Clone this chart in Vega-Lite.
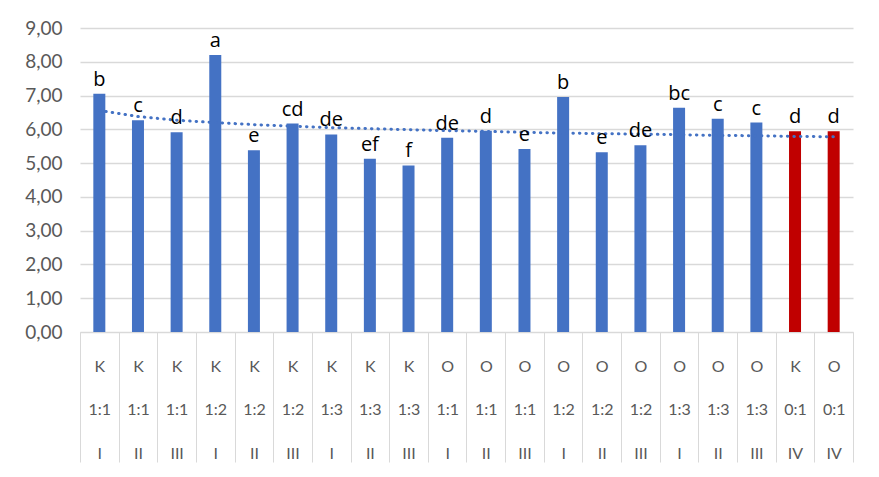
{
  "$schema": "https://vega.github.io/schema/vega-lite/v6.json",
  "width": 773,
  "height": 304,
  "autosize": "none",
  "padding": {"left": 80, "top": 28, "right": 26, "bottom": 145},
  "background": "white",
  "config": {"view": {"stroke": null}},
  "data": {
    "values": [
      {"cat": "K|1:1|I", "value": 7.05, "letter": "b", "trend": 6.56, "ctrl": "no"},
      {"cat": "K|1:1|II", "value": 6.27, "letter": "c", "trend": 6.38, "ctrl": "no"},
      {"cat": "K|1:1|III", "value": 5.91, "letter": "d", "trend": 6.27, "ctrl": "no"},
      {"cat": "K|1:2|I", "value": 8.2, "letter": "a", "trend": 6.2, "ctrl": "no"},
      {"cat": "K|1:2|II", "value": 5.38, "letter": "e", "trend": 6.14, "ctrl": "no"},
      {"cat": "K|1:2|III", "value": 6.17, "letter": "cd", "trend": 6.09, "ctrl": "no"},
      {"cat": "K|1:3|I", "value": 5.85, "letter": "de", "trend": 6.05, "ctrl": "no"},
      {"cat": "K|1:3|II", "value": 5.13, "letter": "ef", "trend": 6.02, "ctrl": "no"},
      {"cat": "K|1:3|III", "value": 4.93, "letter": "f", "trend": 5.99, "ctrl": "no"},
      {"cat": "O|1:1|I", "value": 5.75, "letter": "de", "trend": 5.96, "ctrl": "no"},
      {"cat": "O|1:1|II", "value": 5.96, "letter": "d", "trend": 5.94, "ctrl": "no"},
      {"cat": "O|1:1|III", "value": 5.42, "letter": "e", "trend": 5.91, "ctrl": "no"},
      {"cat": "O|1:2|I", "value": 6.96, "letter": "b", "trend": 5.89, "ctrl": "no"},
      {"cat": "O|1:2|II", "value": 5.32, "letter": "e", "trend": 5.87, "ctrl": "no"},
      {"cat": "O|1:2|III", "value": 5.53, "letter": "de", "trend": 5.86, "ctrl": "no"},
      {"cat": "O|1:3|I", "value": 6.64, "letter": "bc", "trend": 5.84, "ctrl": "no"},
      {"cat": "O|1:3|II", "value": 6.31, "letter": "c", "trend": 5.82, "ctrl": "no"},
      {"cat": "O|1:3|III", "value": 6.2, "letter": "c", "trend": 5.81, "ctrl": "no"},
      {"cat": "K|0:1|IV", "value": 5.94, "letter": "d", "trend": 5.79, "ctrl": "yes"},
      {"cat": "O|0:1|IV", "value": 5.94, "letter": "d", "trend": 5.78, "ctrl": "yes"}
    ]
  },
  "encoding": {
    "x": {
      "field": "cat",
      "type": "nominal",
      "sort": null,
      "scale": {"paddingInner": 0, "paddingOuter": 0},
      "axis": {
        "title": null,
        "labelAngle": 0,
        "labelExpr": "isValid(datum.value) ? split(datum.value, '|') : ''",
        "labelFont": "Lato",
        "labelFontSize": 16,
        "labelColor": "#595959",
        "labelBaseline": "top",
        "labelLineHeight": 43.5,
        "labelPadding": -104,
        "tickBand": "extent",
        "tickSize": 130,
        "tickColor": "#d9d9d9",
        "tickWidth": 1,
        "domainColor": "#d9d9d9",
        "domainWidth": 1,
        "grid": false
      }
    }
  },
  "layer": [
    {
      "mark": {"type": "bar", "size": 12},
      "encoding": {
        "y": {
          "field": "value",
          "type": "quantitative",
          "scale": {"domain": [0, 9], "nice": false},
          "axis": {
            "title": null,
            "values": [0, 1, 2, 3, 4, 5, 6, 7, 8, 9],
            "labelExpr": "replace(format(datum.value, '.2f'), '.', ',')",
            "labelFont": "Lato",
            "labelFontSize": 19,
            "labelColor": "#595959",
            "labelPadding": 18,
            "labelOverlap": false,
            "ticks": false,
            "domain": false,
            "gridColor": "#d9d9d9",
            "gridWidth": 1.5
          }
        },
        "color": {
          "field": "ctrl",
          "type": "nominal",
          "scale": {"domain": ["no", "yes"], "range": ["#4472C4", "#C00000"]},
          "legend": null
        }
      }
    },
    {
      "mark": {"type": "line", "color": "#4472C4", "strokeWidth": 3, "strokeDash": [0.5, 6], "strokeCap": "round"},
      "encoding": {
        "y": {
          "field": "trend",
          "type": "quantitative",
          "scale": {"domain": [0, 9], "nice": false},
          "axis": {
            "title": null,
            "values": [0, 1, 2, 3, 4, 5, 6, 7, 8, 9],
            "labelExpr": "replace(format(datum.value, '.2f'), '.', ',')",
            "labelFont": "Lato",
            "labelFontSize": 19,
            "labelColor": "#595959",
            "labelPadding": 18,
            "labelOverlap": false,
            "ticks": false,
            "domain": false,
            "gridColor": "#d9d9d9",
            "gridWidth": 1.5
          }
        }
      }
    },
    {
      "mark": {"type": "text", "baseline": "alphabetic", "dy": -8, "font": "Open Sans", "fontSize": 20, "color": "black"},
      "encoding": {
        "y": {
          "field": "value",
          "type": "quantitative",
          "scale": {"domain": [0, 9], "nice": false},
          "axis": {
            "title": null,
            "values": [0, 1, 2, 3, 4, 5, 6, 7, 8, 9],
            "labelExpr": "replace(format(datum.value, '.2f'), '.', ',')",
            "labelFont": "Lato",
            "labelFontSize": 19,
            "labelColor": "#595959",
            "labelPadding": 18,
            "labelOverlap": false,
            "ticks": false,
            "domain": false,
            "gridColor": "#d9d9d9",
            "gridWidth": 1.5
          }
        },
        "text": {"field": "letter"}
      }
    }
  ]
}
